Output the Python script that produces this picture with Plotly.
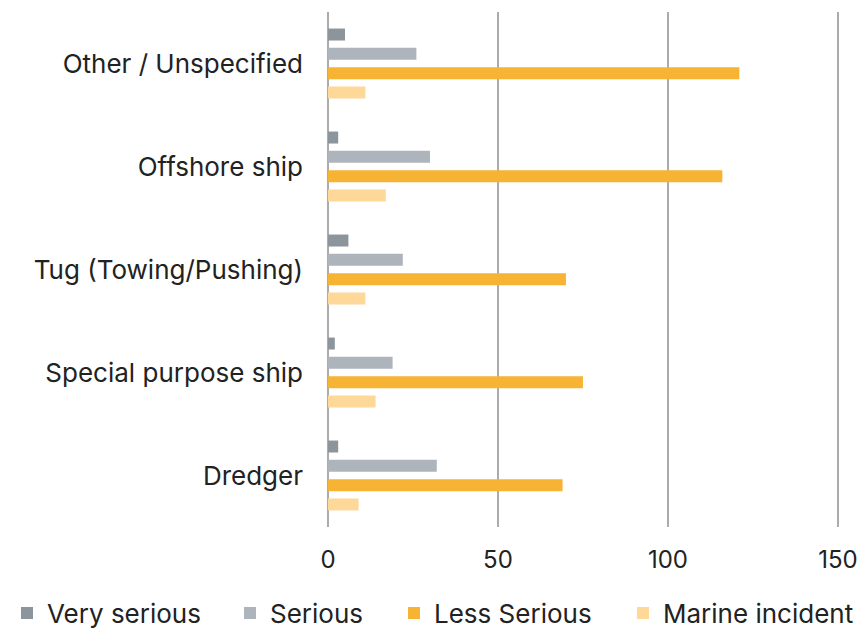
import plotly.graph_objects as go

# Ship categories (top to bottom) and counts per severity level
categories = ["Other / Unspecified", "Offshore ship", "Tug (Towing/Pushing)",
              "Special purpose ship", "Dredger"]
very_serious = [5, 3, 6, 2, 3]
serious = [26, 30, 22, 19, 32]
less_serious = [121, 116, 70, 75, 69]
marine_incident = [11, 17, 11, 14, 9]
x_ticks = [0, 50, 100, 150]

series = [
    ("Very serious", very_serious, "#8b959b"),
    ("Serious", serious, "#adb4bb"),
    ("Less Serious", less_serious, "#f7b334"),
    ("Marine incident", marine_incident, "#fdd898"),
]

FONT = "Inter"
TEXT = "#222222"

# one single-entry legend per series, laid out along the bottom edge
legend_ids = ["legend", "legend2", "legend3", "legend4"]
legend_x = [7, 230, 394, 623]

fig = go.Figure()
for lid, (name, vals, color) in zip(legend_ids, series):
    fig.add_trace(go.Bar(
        y=categories, x=vals, name=name, orientation="h",
        marker=dict(color=color, line=dict(width=0)),
        legend=lid,
    ))

legend_layout = {}
for lid, lx in zip(legend_ids, legend_x):
    legend_layout[lid] = dict(
        orientation="h", xref="container", yref="container",
        x=lx / 860, y=15 / 628, xanchor="left", yanchor="middle",
        font=dict(size=26, color=TEXT), itemclick=False,
        bgcolor="rgba(0,0,0,0)",
    )

fig.update_layout(
    width=860, height=628,
    margin=dict(l=328, r=0, t=12, b=101, autoexpand=False),
    paper_bgcolor="white", plot_bgcolor="white",
    barmode="group", bargap=0.25, bargroupgap=0.38,
    font=dict(family=FONT, size=26, color=TEXT),
    showlegend=True,
    xaxis=dict(
        range=[0, 156.5], tickvals=x_ticks, showgrid=True,
        gridcolor="#ababab", gridwidth=2,
        zeroline=True, zerolinecolor="#ababab", zerolinewidth=2,
        showline=False, ticks="", ticklabelstandoff=16,
        tickfont=dict(size=24, color=TEXT),
    ),
    yaxis=dict(
        autorange="reversed", showgrid=False, zeroline=False,
        showline=False, ticks="", ticklabelstandoff=24,
        tickfont=dict(size=26, color=TEXT),
    ),
    **legend_layout,
)

fig.write_html("out.html")
